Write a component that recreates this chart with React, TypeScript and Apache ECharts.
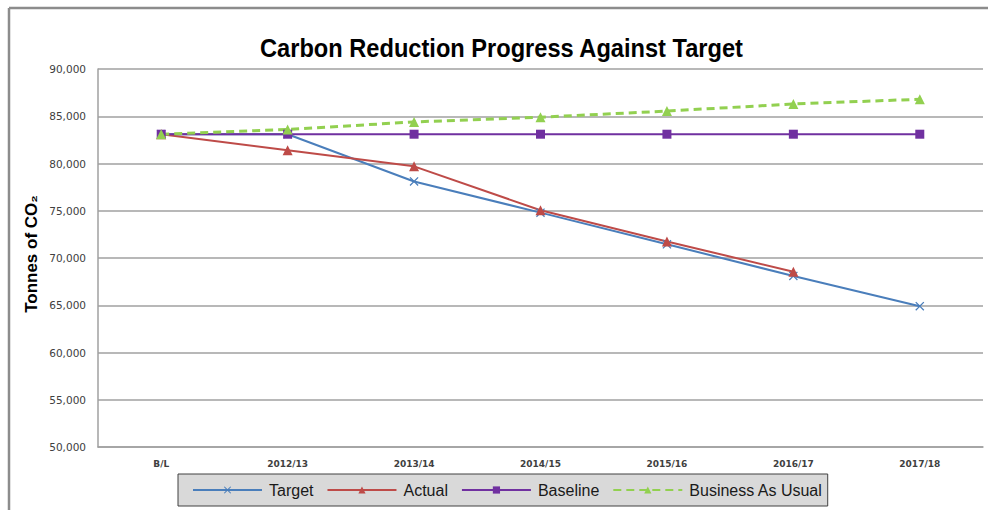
import React, { useEffect, useRef } from 'react';
import * as echarts from 'echarts';

const categories = ['B/L', '2012/13', '2013/14', '2014/15', '2015/16', '2016/17', '2017/18'];
const targetValues = [83100, 83100, 78100, 74800, 71450, 68100, 64900];
const actualValues = [83100, 81400, 79700, 75050, 71750, 68550, null];
const baselineValues = [83100, 83100, 83100, 83100, 83100, 83100, 83100];
const bauValues = [83100, 83600, 84400, 84900, 85550, 86300, 86800];
const seriesNames = ['Target', 'Actual', 'Baseline', 'Business As Usual'];
const titleText = 'Carbon Reduction Progress Against Target';
const yAxisTitle = 'Tonnes of CO₂';

const SANS = '"Liberation Sans", Arial, sans-serif';
const DEJAVU = '"DejaVu Sans", sans-serif';
const crossPath = 'path://M0,1L1,0L5,4L9,0L10,1L6,5L10,9L9,10L5,6L1,10L0,9L4,5Z';

export default function App() {
  const ref = useRef<HTMLDivElement>(null);
  useEffect(() => {
    if (!ref.current) return;
    const chart = echarts.init(ref.current, undefined, { renderer: 'svg' });
    chart.setOption({
      animation: false,
      backgroundColor: '#ffffff',
      grid: { left: 98, right: 5, top: 69, bottom: 63, outerBoundsMode: 'none' },
      xAxis: {
        type: 'category',
        data: categories,
        boundaryGap: true,
        axisLine: { show: true, lineStyle: { color: '#a0a0a0', width: 1.5 } },
        axisTick: { show: false },
        axisLabel: { fontFamily: DEJAVU, fontWeight: 'bold', fontSize: 9, color: '#404040', margin: 12 },
      },
      yAxis: {
        type: 'value',
        min: 50000,
        max: 90000,
        interval: 5000,
        axisLine: { show: true, lineStyle: { color: '#a0a0a0', width: 1.5 } },
        axisTick: { show: false },
        splitLine: { lineStyle: { color: '#a0a0a0', width: 1.5 } },
        axisLabel: {
          fontFamily: DEJAVU,
          fontSize: 10.5,
          color: '#404040',
          margin: 12,
          formatter: (v: number) => v.toLocaleString('en-US'),
        },
      },
      legend: {
        data: seriesNames,
        left: 178,
        top: 474,
        itemWidth: 69,
        itemHeight: 9,
        itemGap: 13,
        padding: [8, 5, 8, 14],
        backgroundColor: '#d9d9d9',
        borderColor: '#404040',
        borderWidth: 1,
        borderRadius: 0,
        textStyle: { fontFamily: SANS, fontSize: 16, color: '#1a1a1a', padding: [0, 0, 0, 2] },
      },
      graphic: [
        { type: 'line', shape: { x1: 9, y1: 8, x2: 988, y2: 8 }, style: { stroke: '#8c8c8c', lineWidth: 2.5 } },
        { type: 'line', shape: { x1: 9, y1: 8, x2: 9, y2: 510 }, style: { stroke: '#8c8c8c', lineWidth: 2.5 } },
        {
          type: 'text',
          x: 501.5,
          y: 48,
          scaleX: 0.945,
          style: {
            text: titleText,
            fontFamily: SANS,
            fontWeight: 'bold',
            fontSize: 25,
            fill: '#000000',
            align: 'center',
            verticalAlign: 'middle',
          },
        },
        {
          type: 'text',
          x: 31,
          y: 254,
          rotation: Math.PI / 2,
          style: {
            text: yAxisTitle,
            fontFamily: SANS,
            fontWeight: 'bold',
            fontSize: 17,
            fill: '#000000',
            align: 'center',
            verticalAlign: 'middle',
          },
        },
      ],
      series: [
        {
          name: 'Target',
          type: 'line',
          data: targetValues,
          symbol: crossPath,
          symbolSize: 9,
          lineStyle: { color: '#4a7ebb', width: 2 },
          itemStyle: { color: '#4a7ebb' },
        },
        {
          name: 'Actual',
          type: 'line',
          data: actualValues,
          symbol: 'triangle',
          symbolSize: 10,
          lineStyle: { color: '#be4b48', width: 2 },
          itemStyle: { color: '#be4b48' },
        },
        {
          name: 'Baseline',
          type: 'line',
          data: baselineValues,
          symbol: 'rect',
          symbolSize: 9,
          lineStyle: { color: '#7030a0', width: 2 },
          itemStyle: { color: '#7030a0' },
        },
        {
          name: 'Business As Usual',
          type: 'line',
          data: bauValues,
          symbol: 'triangle',
          symbolSize: 10,
          lineStyle: { color: '#92d050', width: 3, type: [8, 5] },
          itemStyle: { color: '#92d050' },
        },
      ],
    });
    return () => chart.dispose();
  }, []);
  return (
    <div
      ref={ref}
      style={{ position: 'fixed', left: 0, top: 0, width: 988, height: 510, background: '#ffffff' }}
    />
  );
}
